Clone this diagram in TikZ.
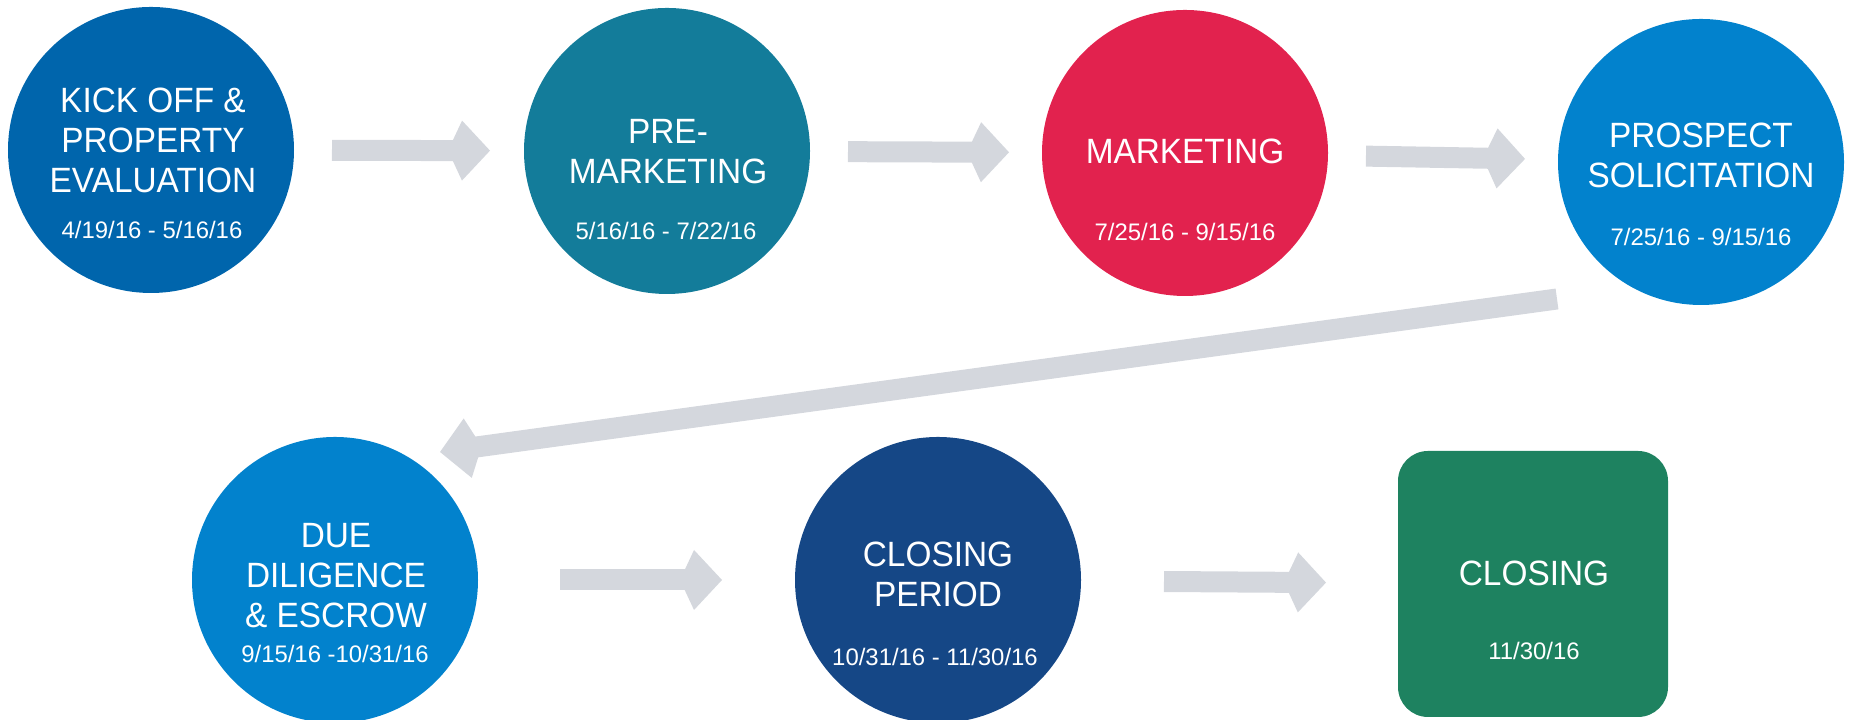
\documentclass[tikz,border=0pt]{standalone}
\usepackage{fontspec}
\newfontfamily\titlefont{Liberation Sans}[FakeStretch=0.95]
\newfontfamily\datefont{Liberation Sans}
\usetikzlibrary{arrows.meta}

\definecolor{kickblue}{RGB}{0,101,172}
\definecolor{premteal}{RGB}{19,124,154}
\definecolor{mktred}{RGB}{226,34,78}
\definecolor{prospblue}{RGB}{2,130,205}
\definecolor{closenavy}{RGB}{21,71,134}
\definecolor{closegreen}{RGB}{30,130,96}
\definecolor{arrowgray}{RGB}{212,215,221}

\tikzset{
	phase/.style={circle, minimum size=2.86cm, inner sep=0pt, outer sep=0pt, fill=#1},
	finalbox/.style={rectangle, rounded corners=0.3cm, minimum width=2.70cm, minimum height=2.66cm, inner sep=0pt, outer sep=0pt, fill=#1},
	phasetitle/.style={text=white, align=center, inner sep=0pt, font=\titlefont\fontsize{10}{11.4}\selectfont},
	phasedate/.style={text=white, inner sep=0pt, font=\datefont\fontsize{6.8}{8}\selectfont},
	flow/.style={draw=arrowgray, line width=2.1mm, -{Kite[length=4.2mm, width=6.0mm, inset=1.4mm, line width=0pt 0]}},
}

\begin{document}
\begin{tikzpicture}
		%%%%% START %%%%%
		\useasboundingbox (0, 0) rectangle (18.5, 7.2);
		
		% phases, top row
		\node[phase=kickblue] (kick) at (1.51, 5.70) {};
		\node[phase=premteal] (premkt) at (6.67, 5.69) {};
		\node[phase=mktred] (mkt) at (11.85, 5.67) {};
		\node[phase=prospblue] (prospect) at (17.01, 5.58) {};
		
		% phases, bottom row
		\node[phase=prospblue] (due) at (3.35, 1.40) {};
		\node[phase=closenavy] (period) at (9.38, 1.40) {};
		\node[finalbox=closegreen] (closing) at (15.33, 1.36) {};
		
		% titles and dates
		\node[phasetitle] (kick-t) at (1.53, 5.795) {KICK OFF \&\\PROPERTY\\EVALUATION};
		\node[phasedate] (kick-d) at (1.52, 4.90) {4/19/16 - 5/16/16};
		
		\node[phasetitle] (premkt-t) at (6.68, 5.685) {PRE-\\MARKETING};
		\node[phasedate] (premkt-d) at (6.66, 4.89) {5/16/16 - 7/22/16};
		
		\node[phasetitle] (mkt-t) at (11.85, 5.685) {MARKETING};
		\node[phasedate] (mkt-d) at (11.85, 4.88) {7/25/16 - 9/15/16};
		
		\node[phasetitle] (prospect-t) at (17.01, 5.645) {PROSPECT\\SOLICITATION};
		\node[phasedate] (prospect-d) at (17.01, 4.83) {7/25/16 - 9/15/16};
		
		\node[phasetitle] (due-t) at (3.36, 1.445) {DUE\\DILIGENCE\\\& ESCROW};
		\node[phasedate] (due-d) at (3.35, 0.665) {9/15/16 -10/31/16};
		
		\node[phasetitle] (period-t) at (9.38, 1.46) {CLOSING\\PERIOD};
		\node[phasedate] (period-d) at (9.35, 0.635) {10/31/16 - 11/30/16};
		
		\node[phasetitle] (closing-t) at (15.34, 1.465) {CLOSING};
		\node[phasedate] (closing-d) at (15.34, 0.69) {11/30/16};
		
		% arrows
		\draw[flow, shorten <=0.38cm, shorten >=0.34cm] (kick) -- (premkt);
		\draw[flow, shorten <=0.38cm, shorten >=0.33cm] (premkt) -- (mkt);
		\draw[flow, shorten <=0.38cm, shorten >=0.33cm] (mkt) -- (prospect);
		
		\coordinate (diag-a) at (15.57, 4.21);
		\coordinate (diag-b) at (4.40, 2.68);
		\draw[flow] (diag-a) -- (diag-b);
		
		\draw[flow, shorten <=0.82cm, shorten >=0.73cm] (due) -- (period);
		\draw[flow, shorten <=0.83cm, shorten >=0.72cm] (period) -- (closing);
		
		%%%%% END %%%%%
\end{tikzpicture}
\end{document}
